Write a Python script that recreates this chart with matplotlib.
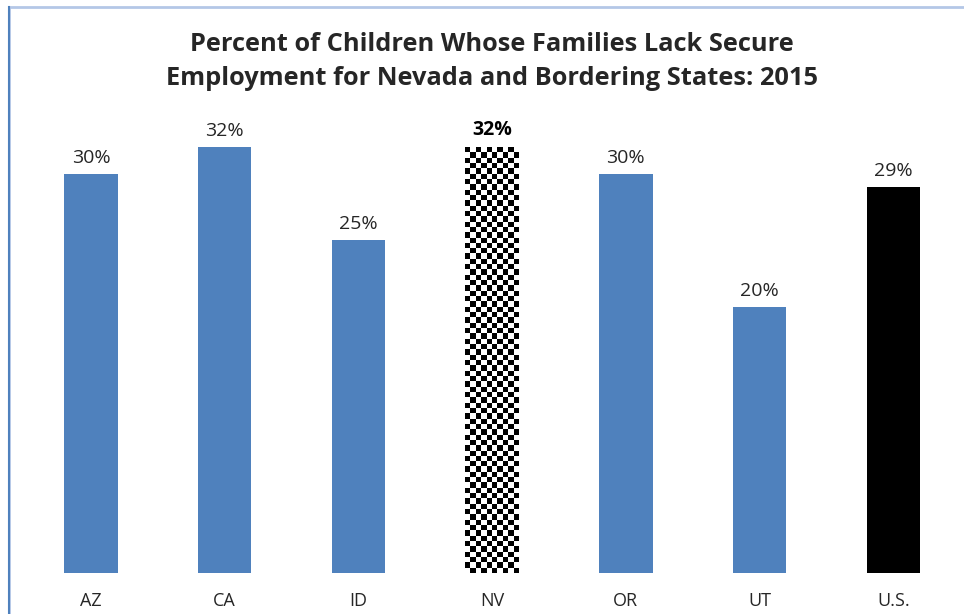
import numpy as np
import matplotlib
matplotlib.use("Agg")
import matplotlib.pyplot as plt
from matplotlib.patches import Rectangle

plt.rcParams['font.family'] = ['Open Sans', 'DejaVu Sans']

states = ["AZ", "CA", "ID", "NV", "OR", "UT", "U.S."]
percents = [30, 32, 25, 32, 30, 20, 29]
highlight = "NV"
national = "U.S."

BLUE = "#4f81bd"
TEXT = "#262626"

fig = plt.figure(figsize=(9.64, 6.14), dpi=100)
ax = fig.add_axes([0.025, 0.067, 0.971, 0.758])

x = np.arange(len(states))
colors = [BLUE] * len(states)
for i, s in enumerate(states):
    if s == national:
        colors[i] = "black"
    if s == highlight:
        colors[i] = "white"
bars = ax.bar(x, percents, width=0.40, color=colors, linewidth=0, zorder=2)

# checkerboard fill for the highlighted state
for bar, s in zip(bars, states):
    if s != highlight:
        continue
    bx, bw, bh = bar.get_x(), bar.get_width(), bar.get_height()
    ncols = 10
    nrows = int(round(bh * 2.5))
    board = (np.add.outer(np.arange(nrows), np.arange(ncols)) % 2).astype(float)
    ax.imshow(board, cmap="gray", extent=(bx, bx + bw, 0, bh), aspect="auto",
              interpolation="nearest", zorder=3)
ax.set_xlim(-0.5, len(states) - 0.5)
ax.set_ylim(0, 35)

for bar, s, v in zip(bars, states, percents):
    bold = s == highlight
    ax.annotate(f"{v}%", (bar.get_x() + bar.get_width() / 2, v),
                xytext=(0, 5), textcoords="offset points", ha="center", va="bottom",
                fontsize=14, color="black" if bold else TEXT,
                fontweight="bold" if bold else "normal")

ax.set_xticks(x)
ax.set_xticklabels(states, fontsize=13, color=TEXT,
                   family=["Liberation Sans Narrow", "Open Sans", "DejaVu Sans"])
ax.tick_params(axis="x", length=0, pad=14)
ax.set_yticks([])
for sp in ax.spines.values():
    sp.set_visible(False)

fig.text(0.51, 0.9, "Percent of Children Whose Families Lack Secure\n"
         "Employment for Nevada and Bordering States: 2015",
         ha="center", va="center", fontsize=18.3, fontweight="bold",
         color=TEXT, linespacing=1.45)

# chart frame (cropped at right and bottom)
fig.add_artist(Rectangle((0.0098, -0.05), 1.2, 1.0386, transform=fig.transFigure,
                         fill=False, edgecolor="#b4c7e7", linewidth=2))
fig.add_artist(plt.Line2D([0.0098, 0.0098], [0, 0.9886], transform=fig.transFigure,
                          color="#4f81bd", linewidth=1.5))

fig.savefig("out.png", dpi=100)
